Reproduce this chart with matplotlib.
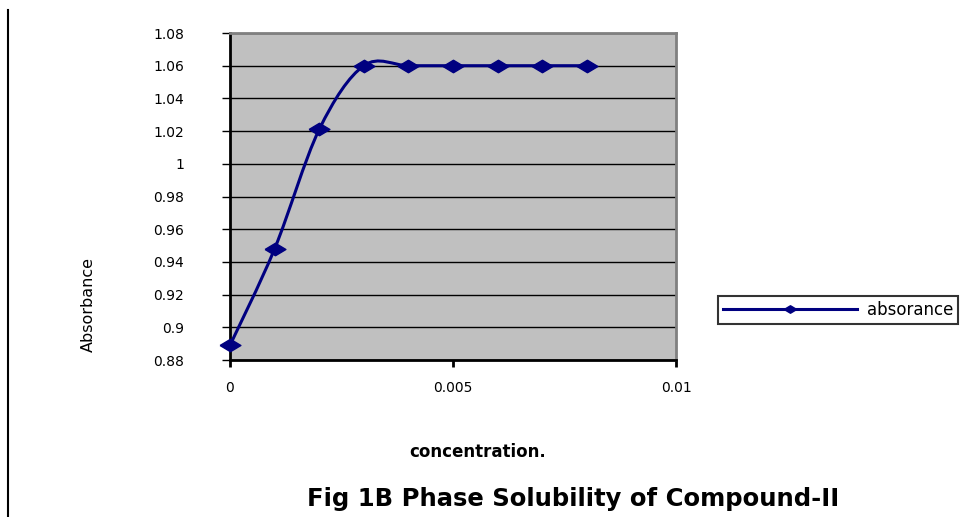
import numpy as np
import matplotlib.pyplot as plt
from matplotlib.path import Path
from matplotlib.patches import PathPatch
from matplotlib.lines import Line2D

# data
conc = [0, 0.001, 0.002, 0.003, 0.004, 0.005, 0.006, 0.007, 0.008]
absorb = [0.889, 0.948, 1.021, 1.06, 1.06, 1.06, 1.06, 1.06, 1.06]
yticks = [0.88, 0.9, 0.92, 0.94, 0.96, 0.98, 1.0, 1.02, 1.04, 1.06, 1.08]
ytick_labels = ['0.88', '0.9', '0.92', '0.94', '0.96', '0.98', '1', '1.02', '1.04', '1.06', '1.08']
xticks = [0, 0.005, 0.01]
xtick_labels = ['0', '0.005', '0.01']

NAVY = '#000080'
diamond = [(-1, 0), (0, 0.6), (1, 0), (0, -0.6), (-1, 0)]

fig = plt.figure(figsize=(9.75, 5.17), dpi=100)
ax = fig.add_axes([230/975, 1 - 360/517, 446/975, 327/517])
ax.set_facecolor('#c0c0c0')

# smoothed line like the spreadsheet one (bezier segments through the points)
x = np.array(conc)
y = np.array(absorb)
verts = [(x[0], y[0])]
codes = [Path.MOVETO]
n = len(x)
for i in range(n - 1):
    p0 = np.array([x[i-1], y[i-1]]) if i > 0 else np.array([x[i], y[i]])
    p1 = np.array([x[i], y[i]])
    p2 = np.array([x[i+1], y[i+1]])
    p3 = np.array([x[i+2], y[i+2]]) if i + 2 < n else p2
    c1 = p1 + (p2 - p0) / 6
    c2 = p2 - (p3 - p1) / 6
    verts += [tuple(c1), tuple(c2), tuple(p2)]
    codes += [Path.CURVE4] * 3
ax.add_patch(PathPatch(Path(verts, codes), facecolor='none', edgecolor=NAVY,
                       lw=2.2, zorder=3, clip_on=False))
ax.plot(conc, absorb, ls='none', marker=diamond, ms=15, color=NAVY, zorder=4, clip_on=False)

ax.set_xlim(0, 0.01)
ax.set_ylim(0.88, 1.08)
ax.set_yticks(yticks)
ax.set_yticklabels(ytick_labels)
ax.set_xticks(xticks)
ax.set_xticklabels(xtick_labels)
ax.yaxis.grid(True, color='black', lw=1)
ax.set_axisbelow(True)
for s in ['top', 'right']:
    ax.spines[s].set_color('#808080')
    ax.spines[s].set_linewidth(2)
for s in ['left', 'bottom']:
    ax.spines[s].set_color('black')
    ax.spines[s].set_linewidth(2)
ax.tick_params(axis='y', direction='out', length=6, width=1, pad=27,
               labelsize=10, labelfontfamily='DejaVu Sans')
ax.tick_params(axis='x', direction='out', length=5, width=2, pad=10,
               labelsize=10, labelfontfamily='DejaVu Sans')

fig.text(478/975, 1 - 452/517, 'concentration.', ha='center', va='center',
         fontsize=12, fontweight='bold', family='DejaVu Sans')
fig.text(88/975, 1 - 304/517, 'Absorbance', ha='center', va='center',
         rotation=90, fontsize=11.5, family='Liberation Sans Narrow')
fig.text(573/975, 1 - 499/517, 'Fig 1B Phase Solubility of Compound-II',
         ha='center', va='center', fontsize=17.5, fontweight='bold',
         family='DejaVu Sans')

# left border line
fig.add_artist(Line2D([8/975, 8/975], [0, 1 - 10/517], color='black', lw=1.5))

handle = Line2D([], [], color=NAVY, lw=2.2, marker=diamond, ms=9)
leg = fig.legend([handle], ['absorance'], loc='center left',
                 bbox_to_anchor=(710/975, 1 - 310/517), frameon=True, fancybox=False,
                 edgecolor='black', handlelength=8, handletextpad=0.6, borderpad=0.3,
                 prop={'family': 'DejaVu Sans', 'size': 12})
leg.get_frame().set_linewidth(1.5)

fig.savefig('out.png', dpi=100)
